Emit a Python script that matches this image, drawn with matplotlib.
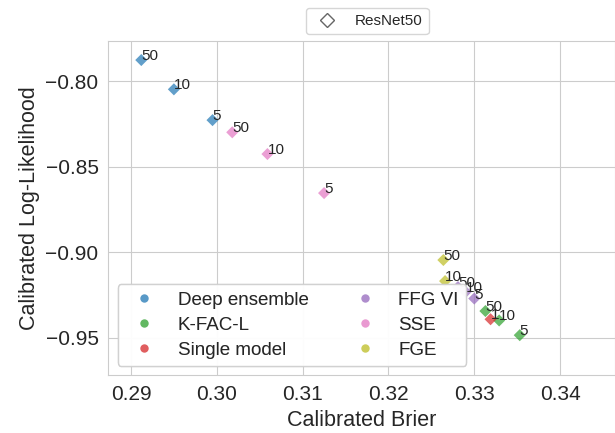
import matplotlib
matplotlib.use("Agg")
import matplotlib.pyplot as plt
import seaborn as sns
from matplotlib.lines import Line2D

sns.set_style("whitegrid")
plt.rcParams['font.family'] = ['Liberation Sans', 'DejaVu Sans']

# === Données ===
methodes = ["Deep ensemble", "K-FAC-L", "Single model", "FFG VI", "SSE", "FGE"]
couleurs = ["tab:blue", "tab:green", "tab:red", "tab:purple", "tab:pink", "tab:olive"]

brier = {
    "Deep ensemble": [0.2912, 0.2950, 0.2995],
    "K-FAC-L": [0.3313, 0.3329, 0.3353],
    "Single model": [0.3319],
    "FFG VI": [0.3281, 0.3290, 0.3300],
    "SSE": [0.3018, 0.3059, 0.3125],
    "FGE": [0.3264, 0.3266],
}
loglik = {
    "Deep ensemble": [-0.7877, -0.8048, -0.8228],
    "K-FAC-L": [-0.9343, -0.9398, -0.9484],
    "Single model": [-0.9391],
    "FFG VI": [-0.9203, -0.9231, -0.9270],
    "SSE": [-0.8299, -0.8426, -0.8654],
    "FGE": [-0.9045, -0.9168],
}
tailles = {
    "Deep ensemble": ["50", "10", "5"],
    "K-FAC-L": ["50", "10", "5"],
    "Single model": ["1"],
    "FFG VI": ["50", "10", "5"],
    "SSE": ["50", "10", "5"],
    "FGE": ["50", "10"],
}

fig, ax = plt.subplots(figsize=(6.15, 4.33), dpi=100)
fig.subplots_adjust(left=0.176, right=1.0, bottom=0.133, top=0.906)

handles = []
for m, c in zip(methodes, couleurs):
    ax.scatter(brier[m], loglik[m], marker="D", s=38, color=c, alpha=0.7,
               edgecolor="none", zorder=3)
    for bx, ly, t in zip(brier[m], loglik[m], tailles[m]):
        ax.text(bx, ly, t, fontsize=11, color="0.15", zorder=4)
    handles.append(Line2D([], [], marker="o", linestyle="none", color=c,
                          alpha=0.7, markersize=6, markeredgewidth=0, label=m))

ax.set_xlim(0.28735, 0.3464)
ax.set_ylim(-0.9719, -0.7764)
ax.set_xticks([0.29, 0.30, 0.31, 0.32, 0.33, 0.34])
ax.set_yticks([-0.80, -0.85, -0.90, -0.95])
ax.tick_params(labelsize=15, colors="0.15")
ax.set_xlabel("Calibrated Brier", fontsize=15.5, color="0.15")
ax.set_ylabel("Calibrated Log-Likelihood", fontsize=15.5, color="0.15")

leg1 = ax.legend(handles=handles, ncol=2, loc="lower left", fontsize=13.5,
                 framealpha=0.8, labelspacing=0.42)
leg1.set_zorder(5)
ax.add_artist(leg1)

h_resnet = Line2D([], [], marker="D", linestyle="none", markerfacecolor="none",
                  markeredgecolor="0.4", markersize=7, label="ResNet50")
fig.legend(handles=[h_resnet], loc="center", bbox_to_anchor=(0.597, 0.951),
           fontsize=11)

plt.savefig("out.png", dpi=100)
